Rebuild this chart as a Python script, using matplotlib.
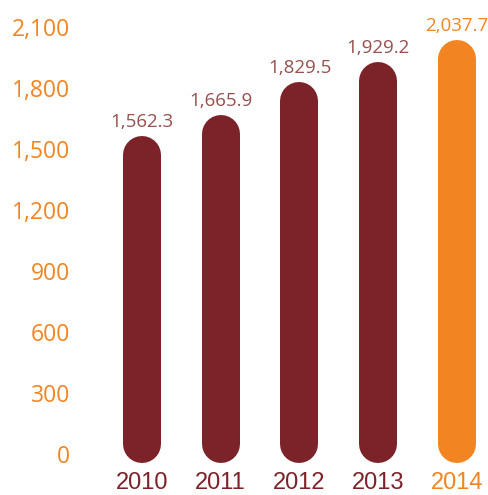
import matplotlib.pyplot as plt

years = ['2010', '2011', '2012', '2013', '2014']
values = [1562.3, 1665.9, 1829.5, 1929.2, 2037.7]
yticks = [0, 300, 600, 900, 1200, 1500, 1800, 2100]

dark = '#7b2328'
orange = '#f28522'
label_dark = '#97504d'
colors = [dark, dark, dark, dark, orange]
text_colors = [label_dark, label_dark, label_dark, label_dark, orange]
year_colors = [dark, dark, dark, dark, orange]

W, H, DPI = 489, 495, 100
fig = plt.figure(figsize=(W / DPI, H / DPI), dpi=DPI)
left_px = 80
ax = fig.add_axes([left_px / W, 0, 1 - left_px / W, 1])

# pixel scale: zero sits 41px above bottom, 2100 spans 427px
ppd = 427 / 2100
zero_px = 41
ax.set_ylim(-zero_px / ppd, (H - zero_px) / ppd)
step = 78.75
x0 = 142
ax.set_xlim((left_px - x0) / step, (W - x0) / step)

bar_px = 38
r = bar_px / 2
for i, v in enumerate(values):
    bottom = (r - 9) / ppd
    top = v - r / ppd
    ax.plot([i, i], [bottom, top], color=colors[i], lw=bar_px * 72 / DPI,
            solid_capstyle='round', clip_on=False)
    ax.annotate(f'{v:,.1f}', (i, v), xytext=(0, 6.5), textcoords='offset points',
                ha='center', va='baseline', color=text_colors[i],
                fontsize=13.5, family='Open Sans', fontweight='normal')
    ax.text(i, -145, years[i], ha='center', va='center', color=year_colors[i],
            fontsize=17, family='Liberation Sans')

ax.set_yticks(yticks)
ax.set_yticklabels([f'{t:,}' for t in yticks], color=orange, fontsize=16.5,
                   family='Open Sans', fontweight='normal')
ax.tick_params(axis='y', length=0, pad=10 * 72 / DPI)
ax.set_xticks([])
for s in ax.spines.values():
    s.set_visible(False)
ax.patch.set_alpha(0)

fig.savefig('out.png', dpi=DPI)
